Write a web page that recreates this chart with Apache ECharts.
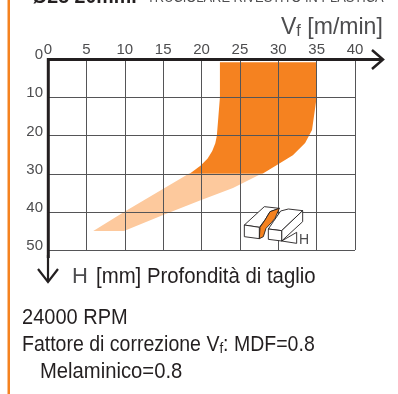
<!DOCTYPE html>
<html><head><meta charset="utf-8">
<style>html,body{margin:0;padding:0;background:#fff}#c{width:398px;height:394px}</style>
<script src="https://cdn.jsdelivr.net/npm/echarts@6/dist/echarts.min.js"></script>
</head><body><div id="c"></div>
<script>
var vfTicks = [0, 5, 10, 15, 20, 25, 30, 35, 40];
var depthTicks = [0, 10, 20, 30, 40, 50];
// Recommended range, [Vf m/min, H mm] outline
var solidRange = [[22.4,0.7],[22.4,10],[22.2,15],[22.0,20],[21.8,22],[21.4,24],[20.8,26],[19.9,27.8],[19.2,28.9],[18.5,29.9],
  [28,29.9],[30.2,27.2],[31.9,25.1],[33.5,21.9],[34.4,18.5],[35,10],[35,0.7]];
// Extended range, [Vf m/min, H mm] outline
var extendedRange = [[18.5,29.8],[9.9,40],[5.9,45],[9.9,45],[15,40.8],[19.8,37],[24.1,33.7],[28,29.8]];
var titleText = 'Ø25 20mm.';
var subtitleText = 'TRUCIOLARE RIVESTITO IN PLASTICA';

var FONT = '"Liberation Sans",sans-serif';
var DARK = '#231f20', ORANGE = '#f58220', LIGHT = '#fdc99d', GREY = '#4d4d4f';
var G = {l:48, t:59.5, w:307, h:190.5};

function polySeries(name, data, color, z) {
  return {
    type:'custom', name:name, coordinateSystem:'cartesian2d', z:z, silent:true, data:data,
    encode:{x:0,y:1}, clip:false,
    renderItem:function(p, api){
      if (p.dataIndex !== 0) return null;
      var pts = data.map(function(d){return api.coord(d);});
      return {type:'polygon', shape:{points:pts}, style:{fill:color}};
    }
  };
}
function line(x1,y1,x2,y2,w,c){return {type:'line',shape:{x1:x1,y1:y1,x2:x2,y2:y2},style:{stroke:c||DARK,lineWidth:w},z:20};}
function txt(x,y,s,size,sx,c,weight){
  return {type:'text',x:x,y:y,scaleX:sx||1,style:{text:s,font:(weight||'normal')+' '+size+'px '+FONT,fill:c||DARK},z:20};
}
function rich(x,y,s,size,small,sx,c){
  return {type:'text',x:x,y:y,scaleX:sx||1,style:{text:s,fill:c||DARK,
    font:size+'px '+FONT,
    rich:{a:{fontSize:size,fontFamily:FONT,fill:c||DARK,verticalAlign:'bottom'},
          b:{fontSize:small,fontFamily:FONT,fill:c||DARK,verticalAlign:'bottom'}}},z:20};
}
// cutter icon helper: maps a compact local sketch onto the page
function ic(a){return a.map(function(p){return [230+p[0]/3,195+p[1]/3];});}
function icon(a,fill,closed){
  return {type:closed===false?'polyline':'polygon',shape:{points:ic(a)},style:{stroke:DARK,lineWidth:0.9,fill:closed===false?null:(fill||'#fff')},z:20};
}

var chart = echarts.init(document.getElementById('c'),null,{renderer:'canvas'});
chart.setOption({
  animation:false,
  backgroundColor:'#fff',
  grid:{left:G.l,top:G.t,width:G.w,height:G.h,containLabel:false},
  xAxis:{type:'value',position:'top',min:0,max:40,interval:5,z:5,
    axisLine:{show:false},axisTick:{show:false},
    axisLabel:{color:GREY,fontFamily:FONT,fontSize:15,margin:2,showMinLabel:true,showMaxLabel:true},
    splitLine:{show:true,lineStyle:{color:'#555557',width:1}}},
  yAxis:{type:'value',inverse:true,min:0,max:50,interval:10,z:5,
    axisLine:{show:false},axisTick:{show:false},
    axisLabel:{color:GREY,fontFamily:FONT,fontSize:15,margin:5,verticalAlign:'bottom',lineHeight:8.5},
    splitLine:{show:true,lineStyle:{color:'#555557',width:1}}},
  series:[polySeries('extended',extendedRange,LIGHT,1),polySeries('range',solidRange,ORANGE,2)],
  graphic:[
    {type:'rect',shape:{x:7.5,y:0,width:2.5,height:394},style:{fill:ORANGE},z:20},
    txt(32,-13,titleText,20,0.98,DARK,'bold'),
    txt(147,-8.5,subtitleText,14,0.92,GREY),
    line(47,59.5,382,59.5,3),
    line(48.3,58,48.3,258,3),
    {type:'polyline',shape:{points:[[372,50],[383,59.5],[372,69]]},style:{stroke:DARK,lineWidth:2.5,fill:null},z:20},
    {type:'polyline',shape:{points:[[38,269],[48,282],[58,269]]},style:{stroke:DARK,lineWidth:2.2,fill:null},z:20},
    line(48,255,48,282,2.2),
    rich(281,15.5,'{a|V}{b|f}{a| [m/min]}',24,17,0.96,GREY),
    txt(72,266,'H',22,1,GREY),
    txt(96,266,'[mm] Profondità di taglio',22,0.926),
    txt(22,307,'24000 RPM',22,0.91),
    rich(22,334,'{a|Fattore di correzione V}{b|f}{a|: MDF=0.8}',22,15,0.887),
    txt(40,361,'Melaminico=0.8',22,0.92),
    // right block
    icon([[115,102],[155,107],[218,47],[175,42],[152,48],[130,80]]),
    icon([[155,107],[218,47],[218,80],[155,138]]),
    icon([[115,102],[155,107],[155,138],[115,133]]),
    // left block
    icon([[43,90],[103,35],[148,40],[120,50],[105,75],[88,97]]),
    icon([[43,90],[88,97],[88,131],[43,125]]),
    icon([[148,40],[120,50],[105,75],[90,97],[88,131],[100,125],[108,100],[125,82],[135,70]],ORANGE),
    // H dimension
    icon([[155,138],[200,145],[200,112],[155,138]],null,false),
    txt(299,233,'H',14,1,GREY)
  ]
});
</script></body></html>
